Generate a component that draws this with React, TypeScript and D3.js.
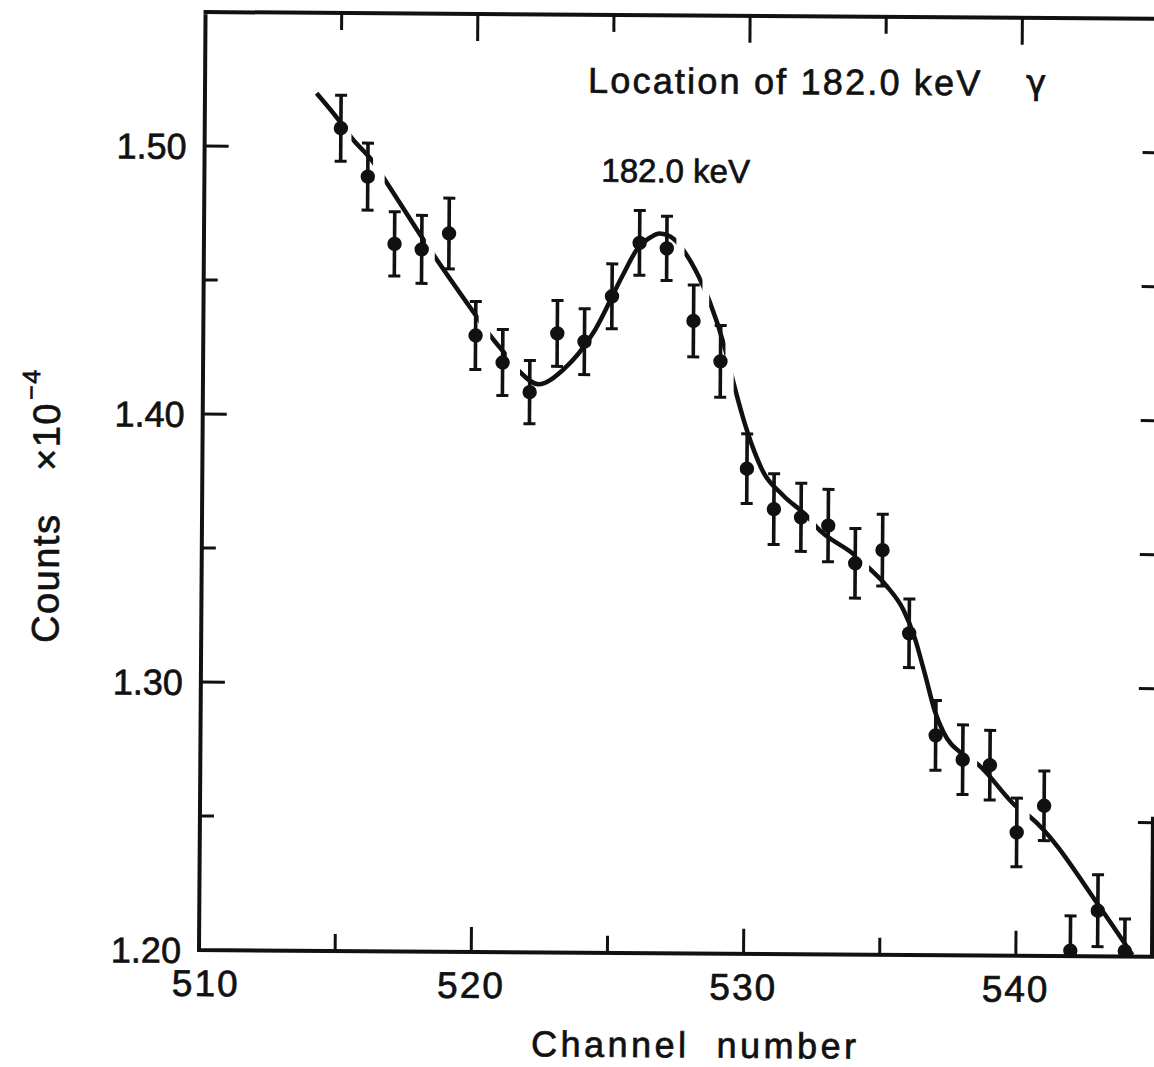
import React from "react";
import * as d3 from "d3";

// ---- data ----
const channels = [515, 516, 517, 518, 519, 520, 521, 522, 523, 524, 525, 526, 527, 528, 529, 530, 531, 532, 533, 534, 535, 536, 537, 538, 539, 540, 541, 542, 543, 544];
const counts = [1.507, 1.489, 1.464, 1.462, 1.468, 1.430, 1.420, 1.409, 1.431, 1.428, 1.445, 1.465, 1.463, 1.436, 1.421, 1.381, 1.366, 1.363, 1.360, 1.346, 1.351, 1.320, 1.282, 1.273, 1.271, 1.246, 1.256, 1.202, 1.217, 1.202];
const errors = [0.0123, 0.0125, 0.012, 0.0127, 0.0132, 0.0127, 0.0123, 0.0118, 0.0123, 0.0123, 0.0121, 0.0121, 0.012, 0.0134, 0.0134, 0.013, 0.0132, 0.0127, 0.0135, 0.013, 0.0134, 0.0128, 0.013, 0.013, 0.013, 0.0128, 0.013, 0.013, 0.0134, 0.012];

// fitted curve
const fitChannels = [514.1, 514.96, 515.39, 516.19, 516.62, 518.3, 520.11, 520.54, 521.15, 521.64, 522.32, 523.24, 524.34, 525.38, 525.92, 526.42, 526.73, 527.3, 527.65, 528.32, 528.57, 529.18, 529.49, 529.85, 530.22, 530.59, 531.32, 532.3, 532.55, 533.96, 534.51, 535.15, 535.78, 536.19, 536.59, 536.97, 537.28, 538.0, 538.53, 540.03, 540.47, 543.16, 544.28];
const fitCounts = [1.52, 1.5095, 1.5035, 1.4945, 1.488, 1.462, 1.436, 1.43, 1.4225, 1.4165, 1.412, 1.4176, 1.4316, 1.4527, 1.4628, 1.4672, 1.4685, 1.4662, 1.4618, 1.4496, 1.4437, 1.4252, 1.4128, 1.3998, 1.3887, 1.38, 1.3713, 1.3626, 1.3596, 1.3492, 1.3442, 1.3377, 1.3288, 1.3188, 1.3048, 1.2908, 1.2833, 1.275, 1.2715, 1.2552, 1.252, 1.2171, 1.2006];
// channel ranges where the drawn curve is interrupted
const curveBreaks = [[514.96, 515.39], [516.19, 516.62], [518.15, 518.48], [520.11, 520.54], [521.15, 521.64], [527.35, 527.65], [528.32, 528.57], [529.18, 529.49], [532.3, 532.55], [533.96, 534.51], [538.03, 538.53], [540.03, 540.47]];

const xMajorTicks = [510, 520, 530, 540];
const xMinorTicks = [515, 525, 535];
const xTickLabels = ["510", "520", "530", "540"];
const yMajorTicks = [1.2, 1.3, 1.4, 1.5];
const yMinorTicks = [1.25, 1.35, 1.45];
const yTickLabels = ["1.20", "1.30", "1.40", "1.50"];
const rightTicks = [1.25, 1.3, 1.35, 1.4, 1.45, 1.5];

const titleText = "Location of 182.0 keV";
const titleSymbol = "γ";
const peakLabel = "182.0 keV";
const xTitle = "Channel  number";
const yTitleMain = "Counts";
const yTitleFactor = "×10";
const yTitleExp = "−4";

const W = 1154;
const H = 1067;
const FONT = "'Liberation Sans', Arial, sans-serif";
const INK = "#111";

export default function App() {
  const x = d3.scaleLinear().domain([510, 545]).range([199, 1152]);
  const y = d3.scaleLinear().domain([1.2, 1.55]).range([950, 12]);
  const left = x(510);
  const right = x(545);
  const top = y(1.55);
  const bottom = y(1.2);

  const fit = fitChannels.map((c, i) => [c, fitCounts[i]] as [number, number]);
  const line = d3
    .line<[number, number]>()
    .x((d) => x(d[0]))
    .y((d) => y(d[1]))
    .curve(d3.curveMonotoneX);

  const capW = 6;
  const textInk = { fill: INK, stroke: INK, strokeWidth: 0.7 };

  return (
    <svg
      width={W}
      height={H}
      viewBox={`0 0 ${W} ${H}`}
      style={{ position: "absolute", left: 0, top: 0, background: "#fff" }}
    >
      <rect x={0} y={0} width={W} height={H} fill="#fff" />
      <defs>
        <clipPath id="plotClip">
          <rect x={left} y={top} width={right - left + 20} height={bottom - top} />
        </clipPath>
        <mask id="curveGaps" maskUnits="userSpaceOnUse" x={0} y={0} width={W} height={H}>
          <rect x={0} y={0} width={W} height={H} fill="#fff" />
          {curveBreaks.map(([a, b], i) => (
            <rect key={i} x={x(a)} y={0} width={x(b) - x(a)} height={H} fill="#000" />
          ))}
        </mask>
      </defs>
      <g transform={`rotate(0.4, ${left}, ${bottom})`} fontFamily={FONT}>
        {/* frame */}
        <path
          d={`M${left},${top} V${bottom} H${W + 10} M${left - 2},${top} H${W + 10} M${right},${y(1.25) - 6} V${bottom}`}
          fill="none"
          stroke={INK}
          strokeWidth={4}
        />
        {/* bottom ticks */}
        {xMajorTicks.filter((t) => t !== 510).map((t) => (
          <line key={"bM" + t} x1={x(t)} x2={x(t)} y1={bottom} y2={bottom - 25} stroke={INK} strokeWidth={3} />
        ))}
        {xMinorTicks.map((t) => (
          <line key={"bm" + t} x1={x(t)} x2={x(t)} y1={bottom} y2={bottom - 17} stroke={INK} strokeWidth={3} />
        ))}
        {/* top ticks */}
        {xMajorTicks.filter((t) => t !== 510).map((t) => (
          <line key={"tM" + t} x1={x(t)} x2={x(t)} y1={top} y2={top + 27} stroke={INK} strokeWidth={3} />
        ))}
        {xMinorTicks.map((t) => (
          <line key={"tm" + t} x1={x(t)} x2={x(t)} y1={top} y2={top + 17} stroke={INK} strokeWidth={3} />
        ))}
        {/* left ticks */}
        {yMajorTicks.filter((t) => t !== 1.2).map((t) => (
          <line key={"lM" + t} x1={left} x2={left + 24} y1={y(t)} y2={y(t)} stroke={INK} strokeWidth={3} />
        ))}
        {yMinorTicks.map((t) => (
          <line key={"lm" + t} x1={left} x2={left + 14} y1={y(t)} y2={y(t)} stroke={INK} strokeWidth={3} />
        ))}
        {/* right ticks */}
        {rightTicks.map((t) => (
          <line key={"r" + t} x1={right - 15} x2={W + 10} y1={y(t)} y2={y(t)} stroke={INK} strokeWidth={3} />
        ))}

        {/* tick labels */}
        {xMajorTicks.map((t, i) => (
          <text key={"xl" + t} x={x(t) + (i === 0 ? 7 : 0)} y={996} fontSize={37} textAnchor="middle" letterSpacing={2} {...textInk}>
            {xTickLabels[i]}
          </text>
        ))}
        {yMajorTicks.map((t, i) => (
          <text key={"yl" + t} x={181} y={y(t) + 13} fontSize={36} textAnchor="end" {...textInk}>
            {yTickLabels[i]}
          </text>
        ))}

        {/* axis titles */}
        <text x={696} y={1054} fontSize={36} textAnchor="middle" letterSpacing={3.5} style={{ whiteSpace: "pre" }} {...textInk}>
          {xTitle}
        </text>
        <text transform="translate(56,644) rotate(-90)" fontSize={38} letterSpacing={1.5} {...textInk}>
          <tspan x={0} y={0}>{yTitleMain}</tspan>
          <tspan x={172} y={0}>{yTitleFactor}</tspan>
          <tspan x={243} y={-20} fontSize={25}>{yTitleExp}</tspan>
        </text>

        {/* annotations */}
        <text x={582} y={90} fontSize={36} letterSpacing={2.2} {...textInk}>
          {titleText}
        </text>
        <text x={1020} y={88} fontSize={34} fontFamily="'DejaVu Sans', sans-serif" {...textInk}>
          {titleSymbol}
        </text>
        <text x={596} y={179} fontSize={33} {...textInk}>
          {peakLabel}
        </text>

        {/* data */}
        <g clipPath="url(#plotClip)">
          <path d={line(fit) || ""} fill="none" stroke={INK} strokeWidth={4.5} strokeLinecap="butt" mask="url(#curveGaps)" />
          {channels.map((c, i) => {
            const cx = x(c);
            const y1 = y(counts[i] + errors[i]);
            const y0 = y(counts[i] - errors[i]);
            return (
              <g key={"p" + c}>
                <line x1={cx} x2={cx} y1={y1} y2={y0} stroke={INK} strokeWidth={3.6} />
                <line x1={cx - capW} x2={cx + capW} y1={y1} y2={y1} stroke={INK} strokeWidth={3} />
                <line x1={cx - capW} x2={cx + capW} y1={y0} y2={y0} stroke={INK} strokeWidth={3} />
                <circle cx={cx} cy={y(counts[i])} r={7.2} fill={INK} />
              </g>
            );
          })}
        </g>
      </g>
    </svg>
  );
}
